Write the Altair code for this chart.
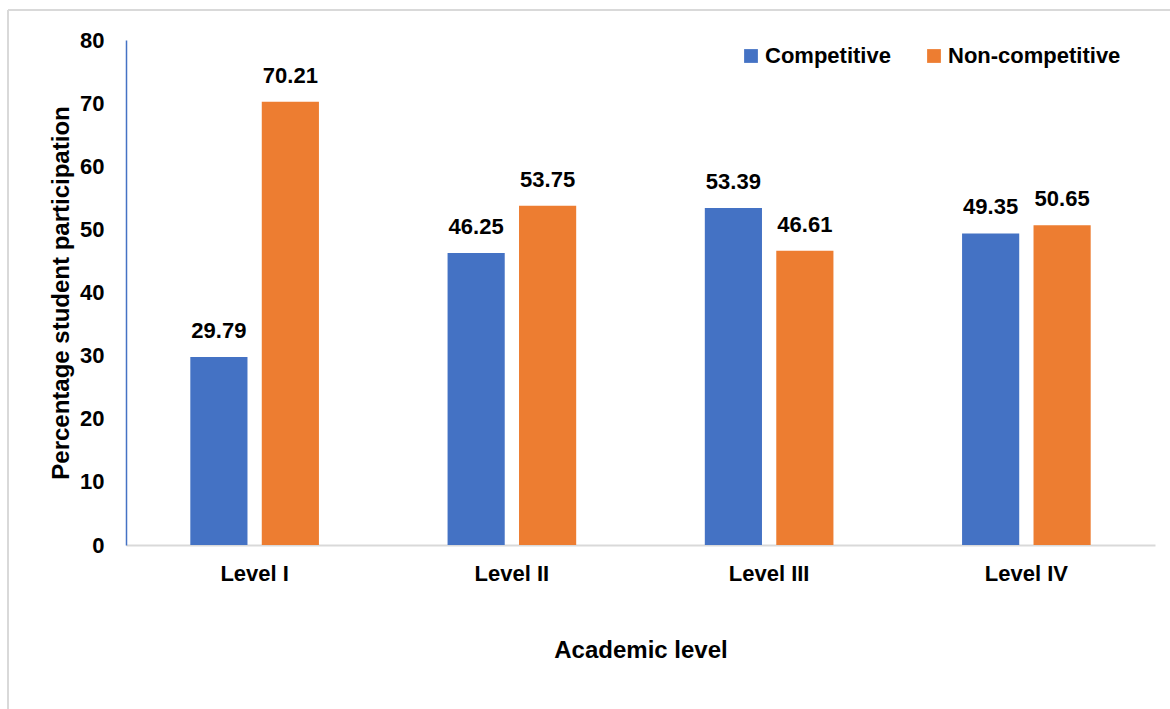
import altair as alt
import pandas as pd

# Participation shares by academic level
levels = ["Level I", "Level II", "Level III", "Level IV"]
competitive = [29.79, 46.25, 53.39, 49.35]
non_competitive = [70.21, 53.75, 46.61, 50.65]
series = ["Competitive", "Non-competitive"]
colors = ["#4472C4", "#ED7D31"]

rows = []
for lvl, c, n in zip(levels, competitive, non_competitive):
    rows.append({"level": lvl, "type": series[0], "value": c})
    rows.append({"level": lvl, "type": series[1], "value": n})
df = pd.DataFrame(rows)

FONT = "Liberation Sans"
W, H = 1029, 505

x_enc = alt.X(
    "level:N",
    sort=levels,
    scale=alt.Scale(paddingInner=0.5, paddingOuter=0.25),
    axis=alt.Axis(
        title="Academic level",
        labelAngle=0,
        labelFontSize=22,
        labelFontWeight="bold",
        labelPadding=18,
        labelColor="#000000",
        titleFontSize=24,
        titleFontWeight="bold",
        titlePadding=54,
        titleColor="#000000",
        ticks=False,
        domainColor="#d9d9d9",
        domainWidth=2,
    ),
)
xo_enc = alt.XOffset("type:N", sort=series, scale=alt.Scale(paddingInner=0.2))
y_enc = alt.Y(
    "value:Q",
    scale=alt.Scale(domain=[0, 80]),
    axis=alt.Axis(
        title="Percentage student participation",
        values=list(range(0, 81, 10)),
        grid=False,
        ticks=False,
        labelFontSize=22,
        labelFontWeight="bold",
        labelPadding=22,
        labelColor="#000000",
        titleFontSize=24,
        titleFontWeight="bold",
        titlePadding=6,
        titleColor="#000000",
        domainColor="#4472C4",
        domainWidth=1.5,
    ),
)

bars = alt.Chart(df).mark_bar().encode(
    x=x_enc,
    xOffset=xo_enc,
    y=y_enc,
    color=alt.Color(
        "type:N",
        sort=series,
        scale=alt.Scale(domain=series, range=colors),
        legend=alt.Legend(
            title=None,
            orient="none",
            legendX=614,
            legendY=5,
            direction="horizontal",
            symbolType="square",
            symbolSize=190,
            symbolStrokeWidth=0,
            labelFontSize=22,
            labelFontWeight="bold",
            labelColor="#000000",
            labelLimit=400,
            columnPadding=32,
            labelOffset=3,
        ),
    ),
)

labels = alt.Chart(df).mark_text(
    dy=-26, fontSize=22, fontWeight="bold", font=FONT, color="#000000"
).encode(
    x=alt.X("level:N", sort=levels),
    xOffset=alt.XOffset("type:N", sort=series),
    y="value:Q",
    text=alt.Text("value:Q", format=".2f"),
)

# Light outer frame around the figure
frame_top = alt.Chart(df).mark_rule(color="#d9d9d9", strokeWidth=2).encode(
    x=alt.value(-118), x2=alt.value(1100), y=alt.value(-30)
)
frame_left = alt.Chart(df).mark_rule(color="#d9d9d9", strokeWidth=2).encode(
    x=alt.value(-118), y=alt.value(-30), y2=alt.value(700)
)

chart = (
    alt.layer(frame_top, frame_left, bars, labels)
    .properties(
        width=W,
        height=H,
        autosize=alt.AutoSizeParams(type="none"),
        padding={"left": 126, "top": 40, "right": 15, "bottom": 164},
        background="white",
    )
    .configure_view(stroke=None)
    .configure_axis(labelFont=FONT, titleFont=FONT)
    .configure_legend(labelFont=FONT)
)

chart.save("out.html", embed_options={"renderer": "svg", "actions": False})
